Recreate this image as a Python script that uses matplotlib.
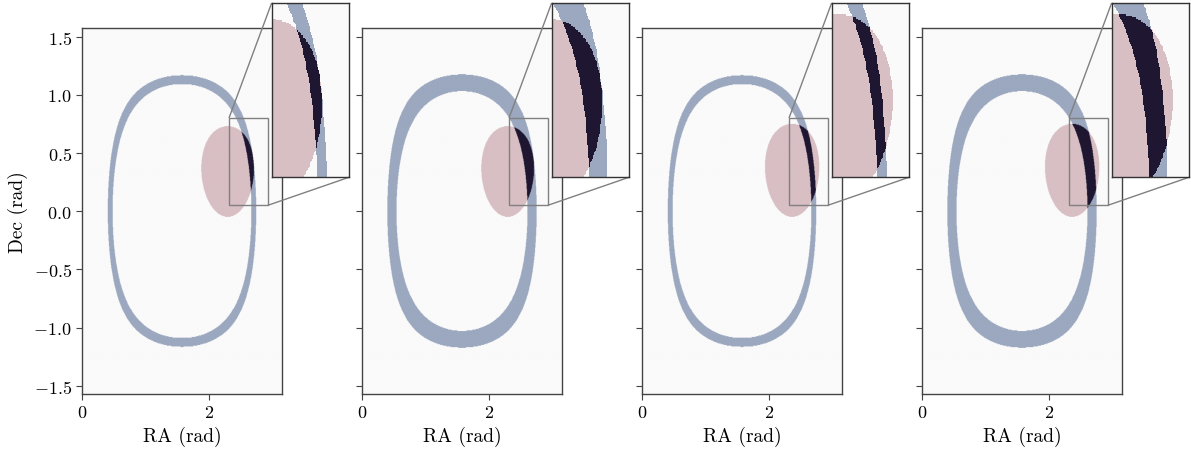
import numpy as np
import matplotlib
matplotlib.use('Agg')
import matplotlib.pyplot as plt
from matplotlib.colors import ListedColormap
from mpl_toolkits.axes_grid1.inset_locator import mark_inset

# LaTeX-like look without a TeX install
plt.rcParams['font.family'] = 'serif'
plt.rcParams['font.serif'] = ['cmr10']
plt.rcParams['mathtext.fontset'] = 'cm'
plt.rcParams['axes.formatter.use_mathtext'] = True

################################### DATA #################
# annulus (small circle on the sky), one entry per panel
ring_ra = [1.571, 1.571, 1.571, 1.571]
ring_dec = [0.0, 0.0, 0.0, 0.0]
ring_radius = [1.130, 1.103, 1.130, 1.103]
ring_halfwidth = [0.038, 0.072, 0.038, 0.072]

# localisation region (circle on the sky), one entry per panel
circ_ra = [2.29, 2.29, 2.36, 2.36]
circ_dec = [0.34, 0.34, 0.35, 0.35]
circ_radius = [0.39, 0.39, 0.40, 0.40]

# zoomed region
zoom_ra = (2.31, 2.92)
zoom_dec = (0.05, 0.80)

xticks = [0, 2]
yticks = [-1.5, -1.0, -0.5, 0.0, 0.5, 1.0, 1.5]
##########################################################

colors = ['#fafafa', '#9ba8bf', '#d8bfc4', '#1f1631']
cmap = ListedColormap(colors)

ra = np.linspace(0, np.pi, 520)
dec = np.linspace(-np.pi / 2, np.pi / 2, 500)
RA, DEC = np.meshgrid(ra, dec)


def ang_dist(ra0, dec0):
    c = np.sin(DEC) * np.sin(dec0) + np.cos(DEC) * np.cos(dec0) * np.cos(RA - ra0)
    return np.arccos(np.clip(c, -1, 1))


fig = plt.figure(figsize=(11.91, 4.52), dpi=100)

for i in range(4):
    d_ring = ang_dist(ring_ra[i], ring_dec[i])
    in_ring = np.abs(d_ring - ring_radius[i]) < ring_halfwidth[i]
    in_circ = ang_dist(circ_ra[i], circ_dec[i]) < circ_radius[i]
    code = in_ring * 1 + in_circ * 2
    rgb = np.array([matplotlib.colors.to_rgb(c) for c in colors])[code]

    ax = fig.add_axes([0.0691 + i * 280 / 1191, 0.1261, 0.1675, 0.809])
    ext = [ra[0], ra[-1], dec[0], dec[-1]]
    ax.imshow(rgb, origin='lower', extent=ext, aspect='auto',
              interpolation='antialiased', interpolation_stage='rgba')
    ax.set_xlim(0, np.pi)
    ax.set_ylim(-np.pi / 2, np.pi / 2)
    ax.set_xticks(xticks)
    ax.set_yticks(yticks)
    if i > 0:
        ax.set_yticklabels([])
    else:
        ax.set_ylabel('Dec (rad)', fontsize=14)
    ax.set_xlabel('RA (rad)', fontsize=14)
    ax.tick_params(labelsize=13, length=4, width=0.8, color='#444444')
    for s in ax.spines.values():
        s.set_color('#444444')
        s.set_linewidth(1.0)

    # zoomed inset
    axins = ax.inset_axes([0.949, 0.5926, 0.3875, 0.4766])
    axins.imshow(code, origin='lower', extent=ext, aspect='auto', cmap=cmap,
                 vmin=-0.5, vmax=3.5, interpolation='nearest')
    axins.set_xlim(*zoom_ra)
    axins.set_ylim(*zoom_dec)
    axins.set_xticks([])
    axins.set_yticks([])
    for s in axins.spines.values():
        s.set_color('#333333')
        s.set_linewidth(1.0)
    mark_inset(ax, axins, loc1=2, loc2=4, fc='none', ec='0.5', lw=1.0)

plt.savefig('out.png', dpi=100)
